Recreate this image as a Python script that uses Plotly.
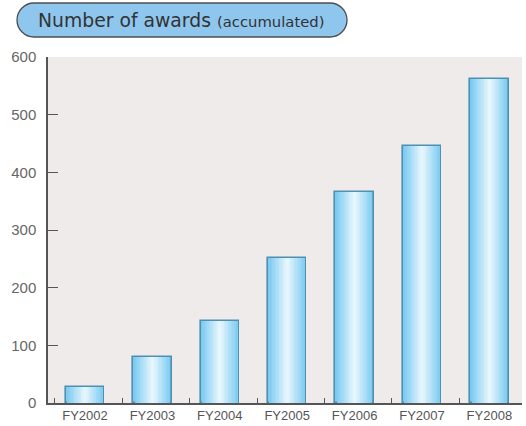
import plotly.graph_objects as go

categories = ["FY2002", "FY2003", "FY2004", "FY2005", "FY2006", "FY2007", "FY2008"]
awards = [27, 79, 142, 252, 366, 446, 561]
y_ticks = [0, 100, 200, 300, 400, 500, 600]

W, H = 526, 426
L, R, T, B = 48, 4, 57, 23
pw, ph = W - L - R, H - T - B

def px(x):
    return (x - L) / pw

def py(y):
    return (H - B - y) / ph

xs = list(range(len(categories)))
fig = go.Figure()

bar_w = 0.57
edge = (122, 202, 242)
center = (230, 246, 253)
N = 14
for k in range(N):
    f = k / (N - 1)
    c = tuple(int(edge[i] + (center[i] - edge[i]) * f) for i in range(3))
    w = bar_w * (1 - k / N) if k > 0 else bar_w
    fig.add_trace(go.Bar(
        x=xs, y=awards, width=w,
        marker=dict(color="rgb(%d,%d,%d)" % c,
                    line=dict(color="#4f8fb0" if k == 0 else "rgba(0,0,0,0)", width=1.6 if k == 0 else 0)),
        showlegend=False, hoverinfo="skip" if k else "y",
    ))

# title pill
x0, x1, y0, y1 = 17, 347, 3, 37
r = (y1 - y0) / 2
kk = 0.5523 * r
path = (
    f"M {px(x0 + r)} {py(y0)} L {px(x1 - r)} {py(y0)} "
    f"C {px(x1 - r + kk)} {py(y0)} {px(x1)} {py(y0 + r - kk)} {px(x1)} {py(y0 + r)} "
    f"C {px(x1)} {py(y0 + r + kk)} {px(x1 - r + kk)} {py(y1)} {px(x1 - r)} {py(y1)} "
    f"L {px(x0 + r)} {py(y1)} "
    f"C {px(x0 + r - kk)} {py(y1)} {px(x0)} {py(y0 + r + kk)} {px(x0)} {py(y0 + r)} "
    f"C {px(x0)} {py(y0 + r - kk)} {px(x0 + r - kk)} {py(y0)} {px(x0 + r)} {py(y0)} Z"
)
fig.add_shape(type="path", path=path, xref="paper", yref="paper",
              fillcolor="#8fc6ee", line=dict(color="#4d4d4d", width=1.3), layer="above")

fig.add_annotation(
    x=px(36), y=py(21), xref="paper", yref="paper", xanchor="left", yanchor="middle",
    text="Number of awards <span style='font-size:14.8px'>(accumulated)</span>",
    showarrow=False, font=dict(family="DejaVu Sans, sans-serif", size=18.8, color="#333333"),
)

fig.update_layout(
    width=W, height=H,
    margin=dict(l=L, r=R, t=T, b=B, pad=0),
    paper_bgcolor="white", plot_bgcolor="#efebea",
    barmode="overlay", bargap=0,
    font=dict(family="Liberation Sans, Arial, sans-serif", color="#555555"),
)
fig.update_xaxes(
    range=[-0.549, 6.484], tickmode="array", tickvals=xs, ticktext=categories,
    ticks="", showline=True, linecolor="#555555", linewidth=1.5,
    showgrid=False, zeroline=False,
    tickfont=dict(family="Liberation Sans, Arial, sans-serif", size=13, color="#555555"),
    minor=dict(tickmode="array", tickvals=[i - 0.447 for i in range(len(categories))],
               ticks="inside", ticklen=5, tickwidth=1.3, tickcolor="#555555", showgrid=False),
)
fig.update_yaxes(
    range=[0, 600], tickmode="array", tickvals=y_ticks,
    ticks="inside", ticklen=10, tickwidth=1.3, tickcolor="#555555",
    showline=True, linecolor="#555555", linewidth=1.5,
    showgrid=False, zeroline=False, ticklabelstandoff=7,
    tickfont=dict(size=15, color="#666666"),
)

fig.write_html("out.html", config={"displayModeBar": False},
               post_script="document.body.style.margin='0';document.body.style.overflow='hidden';")
